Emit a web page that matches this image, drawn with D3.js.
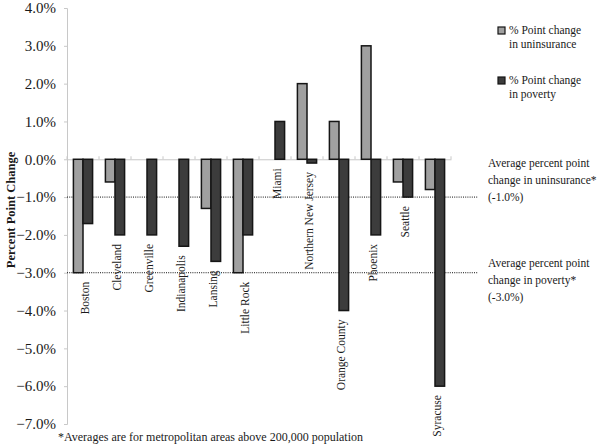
<!DOCTYPE html>
<html>
<head>
<meta charset="utf-8">
<script src="https://cdn.jsdelivr.net/npm/d3@7"></script>
<style>
  html, body { margin: 0; padding: 0; background: #fff; }
  svg { display: block; }
  text { font-family: "Liberation Serif", "Times New Roman", serif; fill: #1a1a1a; }
</style>
</head>
<body>
<svg id="chart" width="600" height="445"></svg>
<script>
const cities = ["Boston", "Cleveland", "Greenville", "Indianapolis", "Lansing", "Little Rock",
  "Miami", "Northern New Jersey", "Orange County", "Phoenix", "Seattle", "Syracuse"];
const uninsurance = [-3.0, -0.6, 0, 0, -1.3, -3.0, 0, 2.0, 1.0, 3.0, -0.6, -0.8];
const poverty = [-1.7, -2.0, -2.0, -2.3, -2.7, -2.0, 1.0, -0.1, -4.0, -2.0, -1.0, -6.0];
const yTicks = [4, 3, 2, 1, 0, -1, -2, -3, -4, -5, -6, -7];
const seriesNames = ["% Point change|in uninsurance", "% Point change|in poverty"];
const averages = [-1.0, -3.0];
const averageLabels = [
  ["Average percent point", "change in uninsurance*", "(-1.0%)"],
  ["Average percent point", "change in poverty*", "(-3.0%)"]
];
const footnote = "*Averages are for metropolitan areas above 200,000 population";
const yTitle = "Percent Point Change";

(function () {
const colors = ["#a0a0a0", "#3c3c3c"];
const svg = d3.select("#chart");

const mLeft = 67, mRight = 451, mTop = 8, mBottom = 424;
const y = d3.scaleLinear().domain([-7, 4]).range([mBottom, mTop]);
const x = d3.scaleBand().domain(cities).range([mLeft, mRight]).padding(0);
const barW = x.bandwidth() * 0.3;

// y axis
const yAxis = d3.axisLeft(y).tickValues(yTicks).tickSize(3).tickFormat(d => d3.format(".1f")(d) + "%");
const gy = svg.append("g").attr("transform", `translate(${mLeft},0)`).call(yAxis);
gy.select(".domain").attr("stroke", "#c8c8c8");
gy.selectAll(".tick line").attr("stroke", "#c8c8c8");
gy.selectAll(".tick text").attr("x", -11).attr("font-size", "15px")
  .attr("font-family", "Liberation Serif").attr("fill", "#222");

// zero line with small ticks
const gx = svg.append("g").attr("transform", `translate(0,${y(0)})`)
  .call(d3.axisTop(x).tickSize(0).tickFormat(""));
gx.select(".domain").attr("stroke", "#c8c8c8");
gx.selectAll(".btick").data(cities.concat(["__end"])).enter().append("line")
  .attr("x1", (d, i) => mLeft + i * x.bandwidth()).attr("x2", (d, i) => mLeft + i * x.bandwidth())
  .attr("y1", 0).attr("y2", -3).attr("stroke", "#c8c8c8");

// dotted average lines
svg.selectAll(".avg").data(averages).enter().append("line")
  .attr("x1", mLeft).attr("x2", 478)
  .attr("y1", d => y(d)).attr("y2", d => y(d))
  .attr("stroke", "#111").attr("stroke-width", 1).attr("stroke-dasharray", "1,1.2");

// bars
const series = [uninsurance, poverty];
series.forEach((vals, si) => {
  svg.append("g").selectAll("rect").data(cities.map((c, i) => ({c, v: vals[i]})).filter(d => d.v !== 0))
    .enter().append("rect")
    .attr("x", d => x(d.c) + x.bandwidth() / 2 - barW + si * barW)
    .attr("y", d => y(Math.max(0, d.v)))
    .attr("width", barW)
    .attr("height", d => Math.abs(y(d.v) - y(0)))
    .attr("fill", colors[si]).attr("stroke", "#151515").attr("stroke-width", 1.5);
});

// category labels
svg.append("g").selectAll("text").data(cities).enter().append("text")
  .attr("transform", (d, i) => {
    const low = Math.min(0, uninsurance[i], poverty[i]);
    return `translate(${x(d) + x.bandwidth() / 2 + 2},${y(low) + 9}) rotate(-90)`;
  })
  .attr("text-anchor", "end").attr("dy", "0.35em").attr("font-size", "11.5px")
  .text(d => d);

// y title
svg.append("text").attr("transform", `translate(15,210) rotate(-90)`)
  .attr("text-anchor", "middle").attr("font-size", "12.5px").attr("font-weight", "bold")
  .text(yTitle);

// legend
const leg = svg.append("g");
seriesNames.forEach((nm, i) => {
  const by = 34 + i * 50;
  leg.append("rect").attr("x", 498).attr("y", by - 7).attr("width", 7).attr("height", 7)
    .attr("fill", colors[i]).attr("stroke", "#151515").attr("stroke-width", 1.2);
  const parts = nm.split("|");
  parts.forEach((p, j) => {
    leg.append("text").attr("x", 509).attr("y", by + j * 14).attr("font-size", "11.5px").text(p);
  });
});

// average annotations
averageLabels.forEach((lines, i) => {
  const base = i === 0 ? 167 : 267;
  lines.forEach((t, j) => {
    svg.append("text").attr("x", 488).attr("y", base + j * 17).attr("font-size", "11.5px").text(t);
  });
});

// footnote
svg.append("text").attr("x", 58).attr("y", 441).attr("font-size", "12px").text(footnote);
})();
</script>
</body>
</html>
